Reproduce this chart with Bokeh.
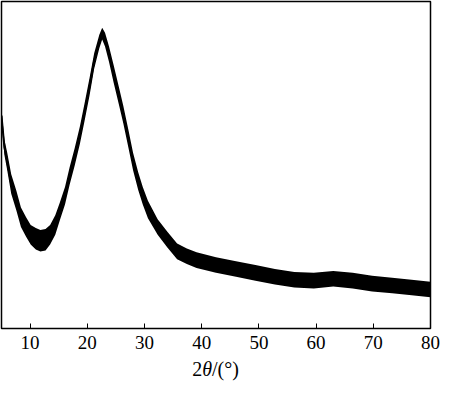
from bokeh.plotting import figure
from bokeh.models import FixedTicker, Range1d, Div
from bokeh.layouts import column
from bokeh.embed import file_html
from bokeh.resources import INLINE

# 2theta (deg), central intensity (a.u.) and half-width of the noise band
two_theta = [5.0, 5.5, 6.0, 6.7, 7.6, 8.4, 9.3, 10.1, 11.0, 11.8, 12.7, 13.5, 14.4, 15.2,
             16.1, 16.9, 17.8, 18.7, 19.5, 20.4, 21.2, 22.1, 22.6, 23.1, 23.8, 24.6, 25.5,
             26.3, 27.2, 28.0, 28.9, 29.7, 30.6, 32.3, 34.0, 35.7, 37.4, 39.1, 42.5, 46.0,
             49.4, 52.8, 56.2, 59.6, 63.0, 66.4, 69.8, 73.3, 76.7, 80.0]
intensity = [218, 186, 171, 148, 131, 114, 104, 96, 92, 90, 91, 96, 106, 120,
             136, 156, 176, 198, 221, 248, 274, 294, 302, 296, 281, 261, 239,
             219, 194, 171, 151, 136, 122, 104, 91, 79, 74, 70, 65, 61,
             57, 53, 50, 49, 51, 49, 46, 44, 42, 40]
noise = [6, 8, 9, 10, 10, 10, 10, 10, 11, 11, 11, 10, 10, 9,
         9, 9, 9, 9, 9, 9, 8, 7, 6, 7, 8, 9, 9,
         9, 9, 9, 9, 9, 9, 8, 8, 8, 8, 8, 8, 8,
         8, 8, 8, 8, 8, 8, 8, 8, 8, 8]
x_ticks = [10, 20, 30, 40, 50, 60, 70, 80]
x_title_html = "2<i>&theta;</i>/(&deg;)"

upper = [i + n for i, n in zip(intensity, noise)]
lower = [i - n for i, n in zip(intensity, noise)]

p = figure(width=442, height=358, output_backend="svg", toolbar_location=None,
           x_range=Range1d(5, 80), y_range=Range1d(0, 335),
           min_border_left=1, min_border_right=12, min_border_top=1,
           min_border_bottom=30)

p.varea(x=two_theta, y1=lower, y2=upper, fill_color="black")
p.line(two_theta, intensity, line_color="black", line_width=2)

p.outline_line_color = "black"
p.outline_line_width = 1.5
p.outline_line_alpha = 1
p.grid.visible = False
p.yaxis.visible = False
p.background_fill_color = "white"
p.border_fill_color = "white"

ax = p.xaxis[0]
ax.ticker = FixedTicker(ticks=x_ticks)
ax.axis_line_color = None
ax.major_tick_in = 5
ax.major_tick_out = 0
ax.major_tick_line_color = "black"
ax.minor_tick_line_color = None
ax.major_label_text_font = "'Liberation Serif', 'Times New Roman', serif"
ax.major_label_text_font_size = "19px"
ax.major_label_text_color = "black"
ax.major_label_standoff = 7

title = Div(text=('<div style="width:431px;text-align:center;'
                  "font-family:'Liberation Serif',serif;font-size:20px;"
                  'line-height:22px;color:black;margin:0;padding:0">'
                  + x_title_html + '</div>'),
            width=442, height=22, margin=(0, 0, 0, 0))

layout = column(p, title, spacing=0)
open("out.html", "w").write(file_html(layout, INLINE))
